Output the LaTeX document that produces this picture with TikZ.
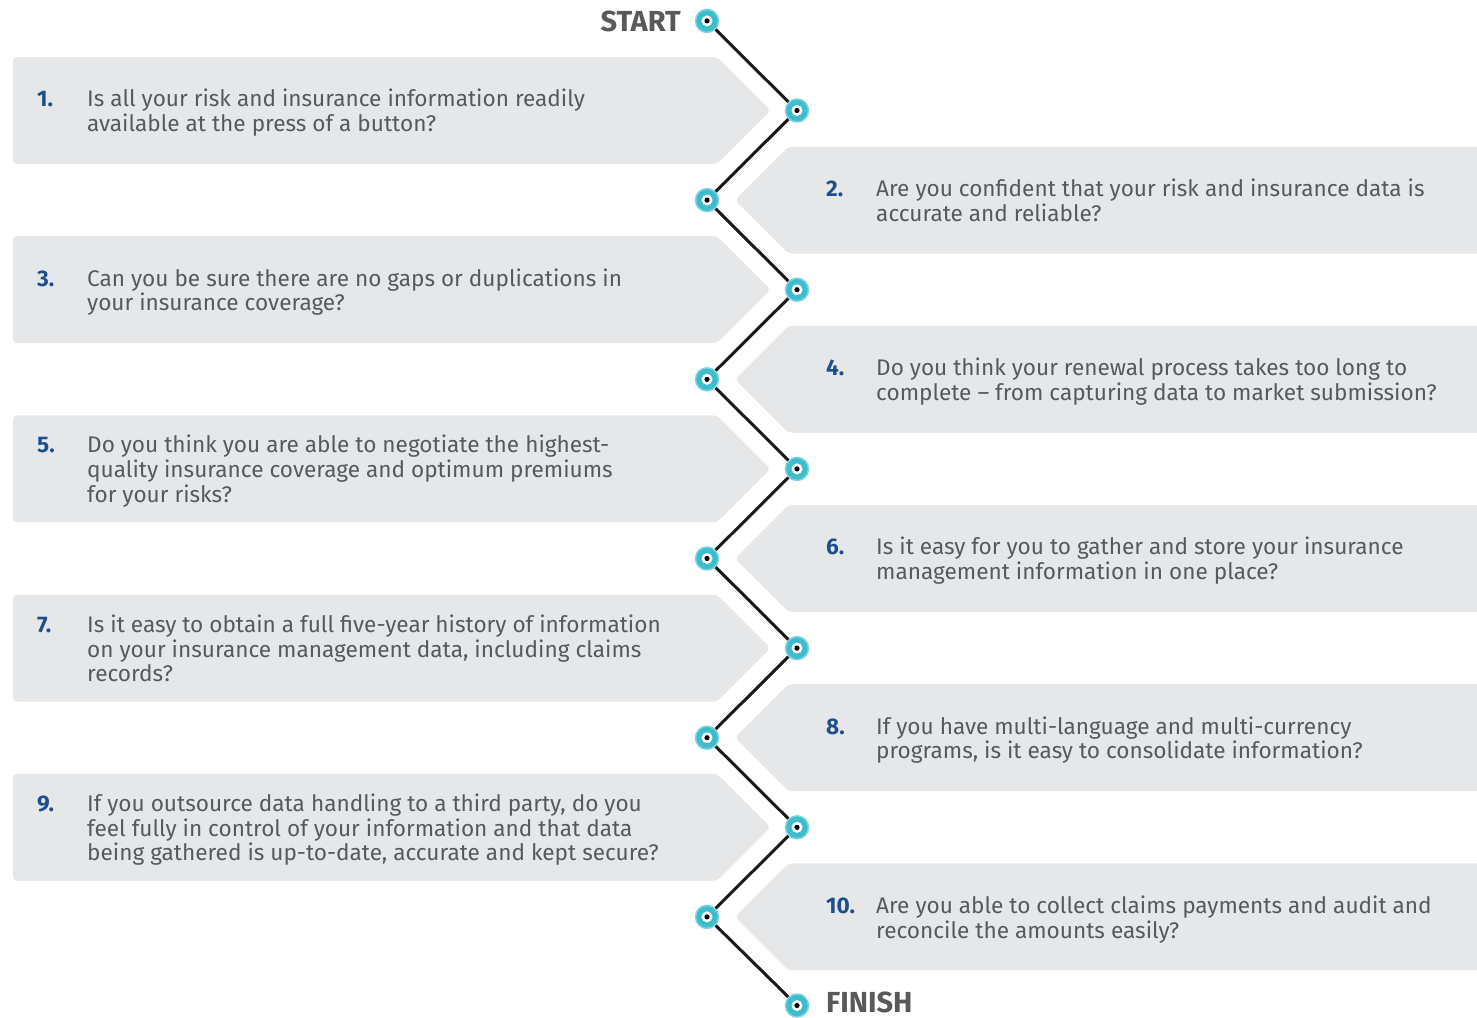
\documentclass[tikz,border=0pt]{standalone}
\usepackage{fontspec}
\setmainfont{Fira Sans}
\definecolor{boxgray}{HTML}{E6E7E8}
\definecolor{txtgray}{HTML}{58595B}
\definecolor{numblue}{HTML}{1D4F8F}
\definecolor{dotcyan}{HTML}{3DBDCC}
\definecolor{dotrim}{HTML}{7FD4E0}
\newcommand\qboxL[1]{\fill[boxgray,rounded corners=4pt] (13,#1-53.5) -- (717,#1-53.5) -- (770.5,#1) -- (717,#1+53.5) -- (13,#1+53.5) -- cycle;}
\newcommand\qboxR[1]{\fill[boxgray,rounded corners=4pt] (1500,#1-53.5) -- (788.5,#1-53.5) -- (735,#1) -- (788.5,#1+53.5) -- (1500,#1+53.5) -- cycle;}
\newcommand\qnum[1]{\makebox[50pt][l]{\color{numblue}\bfseries #1}}
\begin{document}
\begin{tikzpicture}[x=1pt,y=-1pt,
  dot/.style={circle, minimum size=23pt, inner sep=0pt, fill=dotcyan, draw=dotrim, line width=1.5pt,
    path picture={\fill[white] (path picture bounding box.center) circle (5.5pt);
                  \fill[black] (path picture bounding box.center) circle (2.6pt);}},
  conn/.style={line width=3pt, draw=black!90},
  qtext/.style={anchor=west, inner sep=0pt, text=txtgray, font=\fontsize{22.6}{24}\selectfont, yshift=-3.5pt},
  endlabel/.style={inner sep=0pt, text=txtgray, font=\fontsize{29}{29}\selectfont\bfseries}]
\useasboundingbox (0,0) rectangle (1477,1017);
% boxes
\qboxL{110.5}
\qboxR{200.1}
\qboxL{289.7}
\qboxR{379.3}
\qboxL{468.9}
\qboxR{558.5}
\qboxL{648.1}
\qboxR{737.7}
\qboxL{827.3}
\qboxR{916.9}
% texts
\node[qtext] (q1) at (37,110.5) {\begin{tabular}{@{}l@{}l@{}}\qnum{1.} & Is all your risk and insurance information readily\\ & available at the press of a button?\end{tabular}};
\node[qtext] (q2) at (826,200.1) {\begin{tabular}{@{}l@{}l@{}}\qnum{2.} & Are you confident that your risk and insurance data is\\ & accurate and reliable?\end{tabular}};
\node[qtext] (q3) at (37,289.7) {\begin{tabular}{@{}l@{}l@{}}\qnum{3.} & Can you be sure there are no gaps or duplications in\\ & your insurance coverage?\end{tabular}};
\node[qtext] (q4) at (826,379.3) {\begin{tabular}{@{}l@{}l@{}}\qnum{4.} & Do you think your renewal process takes too long to\\ & complete -- from capturing data to market submission?\end{tabular}};
\node[qtext] (q5) at (37,468.9) {\begin{tabular}{@{}l@{}l@{}}\qnum{5.} & Do you think you are able to negotiate the highest-\\ & quality insurance coverage and optimum premiums\\ & for your risks?\end{tabular}};
\node[qtext] (q6) at (826,558.5) {\begin{tabular}{@{}l@{}l@{}}\qnum{6.} & Is it easy for you to gather and store your insurance\\ & management information in one place?\end{tabular}};
\node[qtext] (q7) at (37,648.1) {\begin{tabular}{@{}l@{}l@{}}\qnum{7.} & Is it easy to obtain a full five-year history of information\\ & on your insurance management data, including claims\\ & records?\end{tabular}};
\node[qtext] (q8) at (826,737.7) {\begin{tabular}{@{}l@{}l@{}}\qnum{8.} & If you have multi-language and multi-currency\\ & programs, is it easy to consolidate information?\end{tabular}};
\node[qtext] (q9) at (37,827.3) {\begin{tabular}{@{}l@{}l@{}}\qnum{9.} & If you outsource data handling to a third party, do you\\ & feel fully in control of your information and that data\\ & being gathered is up-to-date, accurate and kept secure?\end{tabular}};
\node[qtext] (q10) at (826,916.9) {\begin{tabular}{@{}l@{}l@{}}\qnum{10.} & Are you able to collect claims payments and audit and\\ & reconcile the amounts easily?\end{tabular}};
% path dots
\node[dot] (c0) at (707,20.9) {};
\node[dot] (c1) at (797,110.5) {};
\node[dot] (c2) at (707,200.1) {};
\node[dot] (c3) at (797,289.7) {};
\node[dot] (c4) at (707,379.3) {};
\node[dot] (c5) at (797,468.9) {};
\node[dot] (c6) at (707,558.5) {};
\node[dot] (c7) at (797,648.1) {};
\node[dot] (c8) at (707,737.7) {};
\node[dot] (c9) at (797,827.3) {};
\node[dot] (c10) at (707,916.9) {};
\node[dot] (c11) at (797,1005.5) {};
\foreach \a/\b in {0/1,1/2,2/3,3/4,4/5,5/6,6/7,7/8,8/9,9/10,10/11}
  \draw[conn] (c\a) -- (c\b);
\node[endlabel, anchor=base east] (start) at (681,31) {START};
\node[endlabel, anchor=base west] (finish) at (826,1012) {FINISH};
\end{tikzpicture}
\end{document}
